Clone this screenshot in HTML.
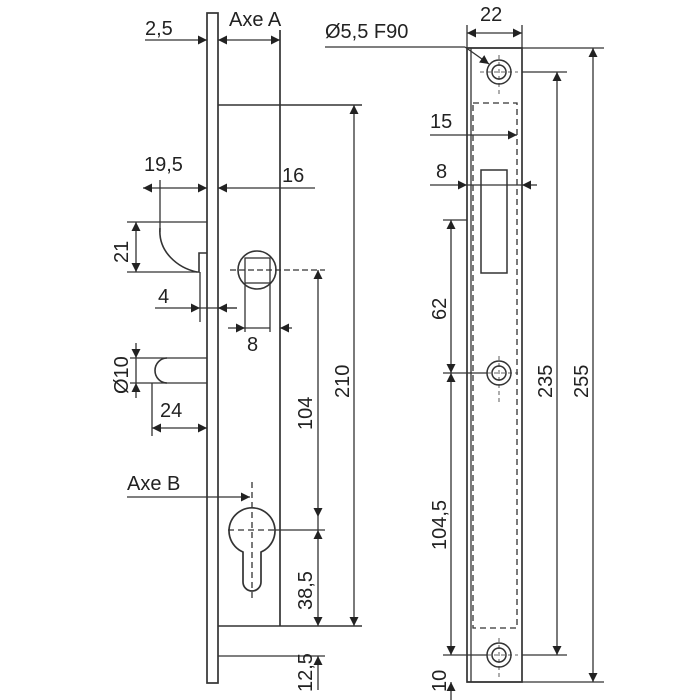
<!DOCTYPE html>
<html><head><style>
html,body{margin:0;padding:0;background:#fff;width:700px;height:700px;overflow:hidden}
text{font-family:"Liberation Sans",Arial,sans-serif;font-size:20px;fill:#222}
</style></head><body>
<svg width="700" height="700" viewBox="0 0 700 700" xmlns="http://www.w3.org/2000/svg">
<defs>
<marker id="a" viewBox="0 0 10 10" refX="10" refY="5" markerWidth="15" markerHeight="9" markerUnits="userSpaceOnUse" orient="auto-start-reverse"><path d="M0,0L10,5L0,10z" fill="#222"/></marker>
</defs>
<g stroke="#333" fill="none" stroke-width="1.3">
<!-- LEFT VIEW -->
<rect x="207" y="13" width="11" height="670" stroke-width="1.7"/>
<line x1="280" y1="30" x2="280" y2="626" stroke-width="1.7"/>
<line x1="218" y1="105" x2="362" y2="105" stroke-width="1.5"/>
<line x1="218" y1="626" x2="362" y2="626" stroke-width="1.5"/>
<line x1="218" y1="656" x2="325" y2="656"/>
<line x1="145" y1="40" x2="207" y2="40" marker-end="url(#a)"/>
<line x1="240" y1="40" x2="218" y2="40" marker-end="url(#a)"/>
<line x1="240" y1="40" x2="280" y2="40" marker-end="url(#a)"/>
<line x1="354" y1="105" x2="354" y2="626" marker-start="url(#a)" marker-end="url(#a)"/>
<line x1="143" y1="188" x2="160" y2="188" marker-start="url(#a)"/>
<line x1="160" y1="188" x2="207" y2="188" marker-end="url(#a)"/>
<line x1="315" y1="188" x2="218" y2="188" marker-end="url(#a)"/>
<line x1="160" y1="180" x2="160" y2="232"/>
<line x1="127" y1="222" x2="207" y2="222"/>
<line x1="127" y1="272" x2="197" y2="272"/>
<path d="M160,228 C158,252 178,268 197,272 L199,272 L199,253 L207,253" stroke-width="1.6"/>
<line x1="136" y1="222" x2="136" y2="272" marker-start="url(#a)" marker-end="url(#a)"/>
<line x1="200" y1="272" x2="200" y2="322"/>
<line x1="155" y1="308" x2="200" y2="308" marker-end="url(#a)"/>
<line x1="200" y1="308" x2="237" y2="308"/>
<line x1="237" y1="308" x2="218" y2="308" marker-end="url(#a)"/>
<circle cx="257" cy="270" r="19" stroke-width="1.6"/>
<rect x="245" y="258" width="25" height="25"/>
<line x1="230" y1="270" x2="325" y2="270" stroke-dasharray="6,3"/>
<line x1="245" y1="283" x2="245" y2="332"/>
<line x1="270" y1="283" x2="270" y2="332"/>
<line x1="228" y1="328" x2="245" y2="328" marker-end="url(#a)"/>
<line x1="245" y1="328" x2="270" y2="328"/>
<line x1="292" y1="328" x2="280" y2="328" marker-end="url(#a)"/>
<line x1="318" y1="270" x2="318" y2="517" marker-start="url(#a)" marker-end="url(#a)"/>
<line x1="130" y1="358" x2="207" y2="358"/>
<line x1="130" y1="383" x2="207" y2="383"/>
<path d="M167,358 A12,12.5 0 0 0 167,383" stroke-width="1.6"/>
<line x1="136" y1="343" x2="136" y2="358" marker-end="url(#a)"/>
<line x1="136" y1="358" x2="136" y2="383"/>
<line x1="136" y1="398" x2="136" y2="383" marker-end="url(#a)"/>
<line x1="152" y1="383" x2="152" y2="436"/>
<line x1="152" y1="428" x2="207" y2="428" marker-start="url(#a)" marker-end="url(#a)"/>
<line x1="127" y1="497" x2="250" y2="497" marker-end="url(#a)"/>
<line x1="252" y1="482" x2="252" y2="600" stroke-dasharray="6,4"/>
<path d="M243,552 A23,23 0 1 1 261,552 L261,582 A9,9 0 0 1 243,582 Z" stroke-width="1.7"/>
<line x1="228" y1="530" x2="275" y2="530" stroke-dasharray="6,4"/>
<line x1="275" y1="530" x2="325" y2="530"/>
<line x1="318" y1="517" x2="318" y2="530"/>
<line x1="318" y1="530" x2="318" y2="626" marker-start="url(#a)" marker-end="url(#a)"/>
<line x1="318" y1="690" x2="318" y2="656" marker-end="url(#a)"/>

<!-- RIGHT VIEW -->
<rect x="467" y="48" width="55" height="634" stroke-width="1.7"/>
<line x1="471" y1="48" x2="471" y2="682"/>
<rect x="473" y="103" width="44" height="525" stroke-dasharray="6,4"/>
<rect x="481" y="170" width="26" height="103" stroke-width="1.5"/>
<line x1="467" y1="48" x2="604" y2="48"/>
<line x1="467" y1="682" x2="604" y2="682"/>
<line x1="522" y1="72" x2="567" y2="72"/>
<line x1="522" y1="655" x2="567" y2="655"/>
<line x1="467" y1="25" x2="467" y2="48"/><line x1="522" y1="25" x2="522" y2="48"/>
<line x1="467" y1="33" x2="522" y2="33" marker-start="url(#a)" marker-end="url(#a)"/>
<line x1="593" y1="48" x2="593" y2="682" marker-start="url(#a)" marker-end="url(#a)"/>
<line x1="557" y1="72" x2="557" y2="655" marker-start="url(#a)" marker-end="url(#a)"/>
<line x1="443" y1="220" x2="467" y2="220"/>
<line x1="443" y1="373" x2="487" y2="373"/>
<line x1="443" y1="655" x2="487" y2="655"/>
<line x1="451" y1="220" x2="451" y2="373" marker-start="url(#a)" marker-end="url(#a)"/>
<line x1="451" y1="373" x2="451" y2="655" marker-start="url(#a)" marker-end="url(#a)"/>
<line x1="451" y1="700" x2="451" y2="682" marker-end="url(#a)"/>
<line x1="430" y1="135" x2="517" y2="135" marker-end="url(#a)"/>
<line x1="430" y1="185" x2="467" y2="185" marker-end="url(#a)"/>
<line x1="467" y1="185" x2="522" y2="185"/>
<line x1="537" y1="185" x2="522" y2="185" marker-end="url(#a)"/>
<line x1="325" y1="47" x2="465" y2="47"/>
<line x1="465" y1="47" x2="489" y2="64" marker-end="url(#a)"/>
<g stroke-width="1.5">
<circle cx="499" cy="72" r="12"/><circle cx="499" cy="72" r="7"/>
<circle cx="499" cy="373" r="12"/><circle cx="499" cy="373" r="7"/>
<circle cx="499" cy="655" r="12"/><circle cx="499" cy="655" r="7"/>
</g>
<g stroke-width="0.8" stroke-dasharray="4,3">
<line x1="499" y1="55" x2="499" y2="95"/><line x1="480" y1="72" x2="518" y2="72"/>
<line x1="499" y1="356" x2="499" y2="405"/><line x1="480" y1="373" x2="518" y2="373"/>
<line x1="499" y1="638" x2="499" y2="680"/><line x1="480" y1="655" x2="518" y2="655"/>
</g>
</g>
<text x="145" y="35">2,5</text>
<text x="229" y="26">Axe A</text>
<text x="144" y="171">19,5</text>
<text x="282" y="182">16</text>
<text x="158" y="303">4</text>
<text x="247" y="351">8</text>
<text x="160" y="417">24</text>
<text x="127" y="490">Axe B</text>
<text x="325" y="38">Ø5,5 F90</text>
<text x="480" y="21">22</text>
<text x="430" y="128">15</text>
<text x="436" y="178">8</text>
<g transform="rotate(-90)">
<text x="-263" y="128">21</text>
<text x="-394" y="128">Ø10</text>
<text x="-430" y="312">104</text>
<text x="-398" y="349">210</text>
<text x="-610" y="312">38,5</text>
<text x="-692" y="312">12,5</text>
<text x="-320" y="446">62</text>
<text x="-550" y="446">104,5</text>
<text x="-692" y="446">10</text>
<text x="-398" y="552">235</text>
<text x="-398" y="588">255</text>
</g>
</svg>
</body></html>
